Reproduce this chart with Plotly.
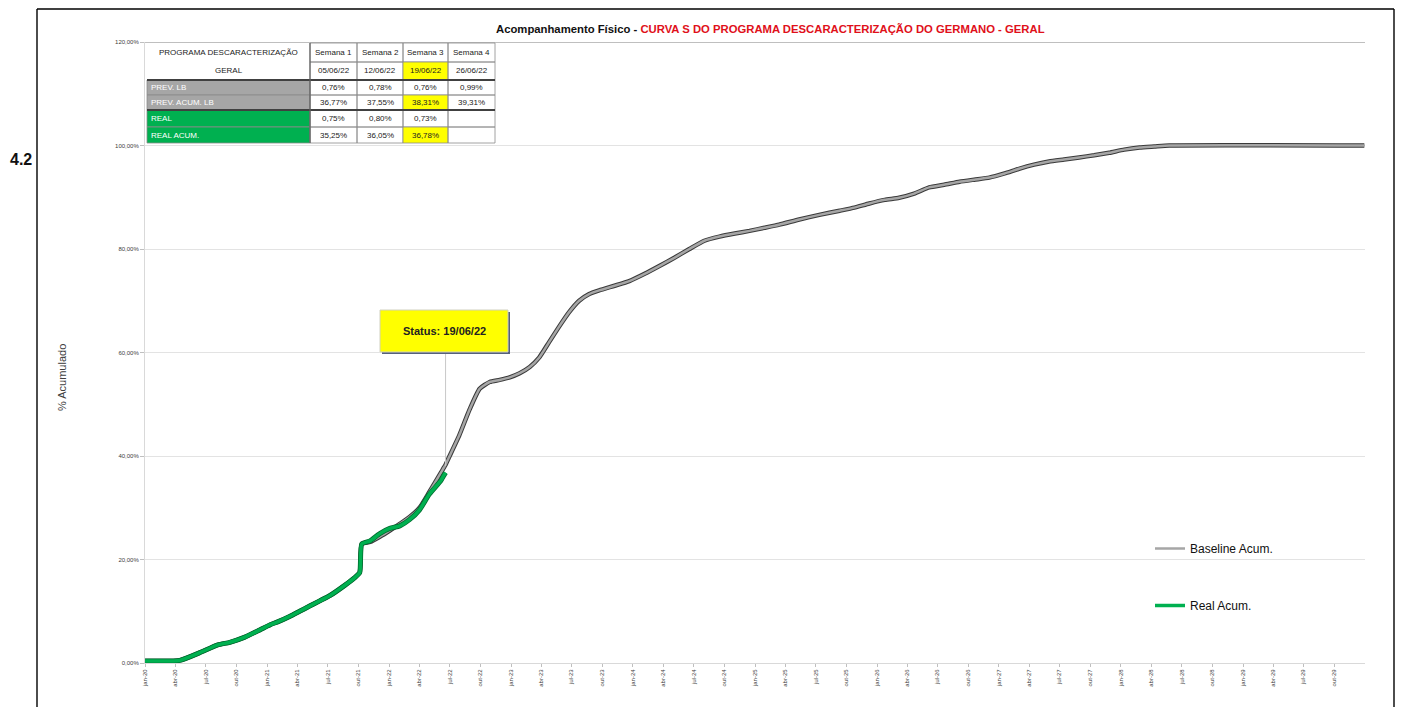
import plotly.graph_objects as go

# ---------------- DATA ----------------
real_dates = ["2020-01-01", "2020-04-14", "2020-06-13", "2020-08-06", "2020-09-11", "2020-10-26",
              "2020-12-10", "2021-01-10", "2021-02-03", "2021-03-09", "2021-04-08", "2021-05-08",
              "2021-06-07", "2021-07-07", "2021-08-21", "2021-09-20", "2021-10-05", "2021-10-11",
              "2021-11-05", "2021-12-04", "2022-01-03", "2022-02-02", "2022-03-03", "2022-04-02",
              "2022-05-01", "2022-06-05", "2022-06-12", "2022-06-19"]
real_values = [0.4, 0.5, 2.0, 3.5, 4.0, 5.0, 6.4, 7.4, 8.0, 9.0, 10.0, 11.0, 12.0, 13.0, 15.0,
               16.5, 17.5, 23.0, 23.6, 25.0, 26.0, 26.5, 27.7, 29.6, 32.6, 35.25, 36.05, 36.78]

base_dates = ["2020-01-01", "2020-04-14", "2020-06-13", "2020-08-06", "2020-09-11", "2020-10-26",
              "2020-12-10", "2021-01-10", "2021-02-03", "2021-03-09", "2021-04-08", "2021-05-08",
              "2021-06-07", "2021-07-07", "2021-08-21", "2021-09-20", "2021-10-05", "2021-10-11",
              "2021-11-05", "2021-12-04", "2022-01-03", "2022-02-02", "2022-03-03", "2022-04-02",
              "2022-05-01", "2022-06-05", "2022-06-12", "2022-06-19", "2022-06-26",
              "2022-07-30", "2022-08-30", "2022-09-29", "2022-10-29", "2022-11-28", "2022-12-28",
              "2023-01-27", "2023-02-26", "2023-03-26", "2023-04-25", "2023-05-25", "2023-06-24",
              "2023-07-24", "2023-08-23", "2023-09-22", "2023-11-07", "2023-12-21", "2024-02-05",
              "2024-03-20", "2024-05-04", "2024-06-18", "2024-08-02", "2024-09-16", "2024-11-01",
              "2024-12-15", "2025-01-29", "2025-03-14", "2025-05-13", "2025-07-12", "2025-09-11",
              "2025-10-25", "2025-12-09", "2026-01-24", "2026-03-08", "2026-04-22", "2026-06-06",
              "2026-07-21", "2026-09-05", "2026-10-19", "2026-12-03", "2027-01-18", "2027-03-02",
              "2027-04-16", "2027-05-31", "2027-07-15", "2027-08-29", "2027-10-13", "2027-11-27",
              "2028-01-11", "2028-02-26", "2028-04-10", "2028-05-25", "2029-12-30"]
base_values = [0.4, 0.5, 2.0, 3.5, 4.0, 5.0, 6.4, 7.4, 8.0, 9.0, 10.0, 11.0, 12.0, 13.0, 15.0,
               16.5, 17.5, 23.0, 23.4, 24.4, 25.6, 26.9, 28.2, 30.0, 33.0, 36.77, 37.55, 38.31, 39.31,
               44.0, 49.0, 53.0, 54.3, 54.7, 55.2, 56.0, 57.2, 59.0, 62.0, 65.0, 67.8,
               70.0, 71.3, 72.0, 72.9, 73.8, 75.2, 76.7, 78.3, 80.0, 81.6, 82.4, 83.0,
               83.5, 84.1, 84.7, 85.7, 86.6, 87.4, 88.0, 88.8, 89.5, 89.9, 90.7, 91.9,
               92.4, 93.0, 93.4, 93.8, 94.6, 95.5, 96.3, 96.9, 97.3, 97.7, 98.1, 98.6,
               99.2, 99.6, 99.8, 100.0, 100.0]

years = [str(y)[2:] for y in range(2020, 2030)]
months_pt = ["jan", "abr", "jul", "out"]
months_num = ["01", "04", "07", "10"]
x_tickvals = [f"20{y}-{m}-01" for y in years for m in months_num]
x_ticktext = [f"{mm}-{y}" for y in years for mm in months_pt]

y_tickvals = [0, 20, 40, 60, 80, 100, 120]
y_ticktext = ["0,00%", "20,00%", "40,00%", "60,00%", "80,00%", "100,00%", "120,00%"]

status_date = "2022-06-19"
status_value = 38.31
status_label = "Status: 19/06/22"

title_black = "Acompanhamento Físico - "
title_red = "CURVA S DO PROGRAMA DESCARACTERIZAÇÃO DO GERMANO - GERAL"
y_title = "% Acumulado"
section_label = "4.2"

table_header = ["PROGRAMA DESCARACTERIZAÇÃO", "Semana 1", "Semana 2", "Semana 3", "Semana 4"]
table_sub = ["GERAL", "05/06/22", "12/06/22", "19/06/22", "26/06/22"]
row_labels = ["PREV. LB", "PREV. ACUM. LB", "REAL", "REAL ACUM."]
prev_lb = ["0,76%", "0,78%", "0,76%", "0,99%"]
prev_acum_lb = ["36,77%", "37,55%", "38,31%", "39,31%"]
real_week = ["0,75%", "0,80%", "0,73%", ""]
real_acum = ["35,25%", "36,05%", "36,78%", ""]

# ---------------- FIGURE ----------------
# page body has an 8px margin on every side: size the figure so the page never scrolls
OFF = 8
W, H = 1403 - 2 * OFF, 715 - 2 * OFF
L, R, T, B = 145, 1365, 42, 663  # screen pixels of the plot area


def xp(px):
    return (px - L) / (R - L)


def yp(py):
    return (B - py) / (B - T)


FONT = "Liberation Sans, Arial"

fig = go.Figure()

fig.add_trace(go.Scatter(x=base_dates, y=base_values, mode="lines",
                         line=dict(color="#3a3a3a", width=4.5, shape="spline", smoothing=0.5),
                         showlegend=False, hoverinfo="skip"))
fig.add_trace(go.Scatter(x=base_dates, y=base_values, mode="lines", name="Baseline Acum.",
                         line=dict(color="#a6a6a6", width=2.5, shape="spline", smoothing=0.5),
                         legendgroup="b"))
fig.add_trace(go.Scatter(x=real_dates, y=real_values, mode="lines",
                         line=dict(color="#006a2e", width=5, shape="spline", smoothing=0.5),
                         showlegend=False, hoverinfo="skip"))
fig.add_trace(go.Scatter(x=real_dates, y=real_values, mode="lines", name="Real Acum.",
                         line=dict(color="#00b050", width=3.5, shape="spline", smoothing=0.5),
                         legendgroup="r"))

shapes = []
annotations = []

# outer frame: left, top and right edges only (bottom is cut off in the reference)
right_edge = OFF + W - 1.0
top_edge = OFF + 1.0
bottom_edge = OFF + H
frame = dict(color="#000000", width=1.4)
shapes.append(dict(type="line", xref="paper", yref="paper", x0=xp(37), x1=xp(37),
                   y0=yp(bottom_edge), y1=yp(top_edge), line=frame))
shapes.append(dict(type="line", xref="paper", yref="paper", x0=xp(right_edge), x1=xp(right_edge),
                   y0=yp(bottom_edge), y1=yp(top_edge), line=frame))
shapes.append(dict(type="line", xref="paper", yref="paper", x0=xp(37), x1=xp(right_edge),
                   y0=yp(top_edge), y1=yp(top_edge), line=frame))

# top (120%) line darker
shapes.append(dict(type="line", xref="paper", yref="y", x0=0, x1=1, y0=120, y1=120,
                   line=dict(color="#bfbfbf", width=2), layer="below"))

# status connector and box
shapes.append(dict(type="line", xref="x", yref="paper", x0=status_date, x1=status_date,
                   y0=yp(466), y1=yp(352), line=dict(color="#c8c8c8", width=1)))
shapes.append(dict(type="rect", xref="paper", yref="paper",
                   x0=xp(382), x1=xp(510), y0=yp(354), y1=yp(312),
                   line=dict(width=0), fillcolor="#56607a"))
shapes.append(dict(type="rect", xref="paper", yref="paper",
                   x0=xp(380), x1=xp(508), y0=yp(352), y1=yp(310),
                   line=dict(color="#d0d0c0", width=1), fillcolor="#ffff00"))
annotations.append(dict(xref="paper", yref="paper", x=xp(444), y=yp(331), text=f"<b>{status_label}</b>",
                        showarrow=False, font=dict(family=FONT, size=11, color="#222222"),
                        xanchor="center", yanchor="middle"))

# ---- table ----
cols = [147, 310, 357, 403, 448, 495]
rows = [43, 62, 80, 95, 110, 127, 143]
GRAY = "#a6a6a6"
GREEN = "#00b050"
YELLOW = "#ffff00"

shapes.append(dict(type="rect", xref="paper", yref="paper", x0=xp(cols[0]), x1=xp(cols[-1]),
                   y0=yp(rows[-1]), y1=yp(rows[0]), line=dict(width=0), fillcolor="#ffffff"))


def cell(c, r, fill=None, lw=0.8):
    shapes.append(dict(type="rect", xref="paper", yref="paper",
                       x0=xp(cols[c]), x1=xp(cols[c + 1]), y0=yp(rows[r + 1]), y1=yp(rows[r]),
                       line=dict(color="#8c8c8c", width=lw),
                       fillcolor=fill if fill else "rgba(0,0,0,0)"))


def text(c, r, s, color="#222222", align="center"):
    if align == "center":
        x = xp((cols[c] + cols[c + 1]) / 2)
        xa = "center"
    else:
        x = xp(cols[c] + 2)
        xa = "left"
    annotations.append(dict(xref="paper", yref="paper", x=x, y=yp((rows[r] + rows[r + 1]) / 2),
                            text=s, showarrow=False, xanchor=xa, yanchor="middle",
                            font=dict(family=FONT, size=8, color=color)))


text(0, 0, table_header[0])
text(0, 1, table_sub[0])
for i in range(1, 5):
    cell(i, 0)
    cell(i, 1, fill=YELLOW if i == 3 else None)
    text(i, 0, table_header[i])
    text(i, 1, table_sub[i])

data_rows = [prev_lb, prev_acum_lb, real_week, real_acum]
fills = [GRAY, GRAY, GREEN, GREEN]
for k in range(4):
    r = k + 2
    cell(0, r, fill=fills[k])
    text(0, r, row_labels[k], color="#ffffff", align="left")
    for i in range(4):
        hl = (i == 2 and k in (1, 3))
        cell(i + 1, r, fill=YELLOW if hl else None)
        if data_rows[k][i]:
            text(i + 1, r, data_rows[k][i])

for py in (rows[2], rows[4]):
    shapes.append(dict(type="line", xref="paper", yref="paper", x0=xp(cols[0]), x1=xp(cols[-1]),
                       y0=yp(py), y1=yp(py), line=dict(color="#404040", width=2)))
shapes.append(dict(type="line", xref="paper", yref="paper", x0=xp(cols[1]), x1=xp(cols[1]),
                   y0=yp(rows[-1]), y1=yp(rows[0]), line=dict(color="#606060", width=1.2)))

# title and side texts
annotations.append(dict(xref="paper", yref="paper", x=xp(771), y=yp(29),
                        text=f"<b>{title_black}</b><span style='color:#e0101a'><b>{title_red}</b></span>",
                        showarrow=False, xanchor="center", yanchor="middle",
                        font=dict(family=FONT, size=11.3, color="#111111")))
annotations.append(dict(xref="paper", yref="paper", x=xp(62), y=yp(378), text=y_title,
                        textangle=-90, showarrow=False, xanchor="center", yanchor="middle",
                        font=dict(family=FONT, size=11, color="#404040")))
annotations.append(dict(xref="paper", yref="paper", x=xp(21), y=yp(160), text=f"<b>{section_label}</b>",
                        showarrow=False, xanchor="center", yanchor="middle",
                        font=dict(family=FONT, size=16, color="#111111")))

fig.update_layout(
    width=W, height=H,
    margin=dict(l=L - OFF, r=W - (R - OFF), t=T - OFF, b=H - (B - OFF), autoexpand=False),
    paper_bgcolor="#ffffff", plot_bgcolor="#ffffff",
    shapes=shapes, annotations=annotations,
    showlegend=True,
    legend=dict(x=xp(1150), y=yp(534), xanchor="left", yanchor="top",
                font=dict(family=FONT, size=12, color="#111111"),
                tracegroupgap=38, bgcolor="rgba(0,0,0,0)", itemwidth=30),
    xaxis=dict(type="date", range=["2020-01-01", "2030-01-01"],
               tickmode="array", tickvals=x_tickvals, ticktext=x_ticktext,
               tickangle=-90, tickfont=dict(family=FONT, size=6, color="#404040"),
               showgrid=False, zeroline=False,
               showline=True, linecolor="#d9d9d9", linewidth=1,
               ticks="outside", ticklen=3, tickcolor="#bfbfbf"),
    yaxis=dict(range=[0, 120], tickmode="array", tickvals=y_tickvals, ticktext=y_ticktext,
               tickfont=dict(family=FONT, size=6, color="#404040"),
               showgrid=True, gridcolor="#e3e3e3", gridwidth=1, zeroline=False,
               showline=True, linecolor="#d9d9d9", linewidth=1,
               ticks="outside", ticklen=4, tickcolor="#bfbfbf"),
)

fig.write_html("out.html")
